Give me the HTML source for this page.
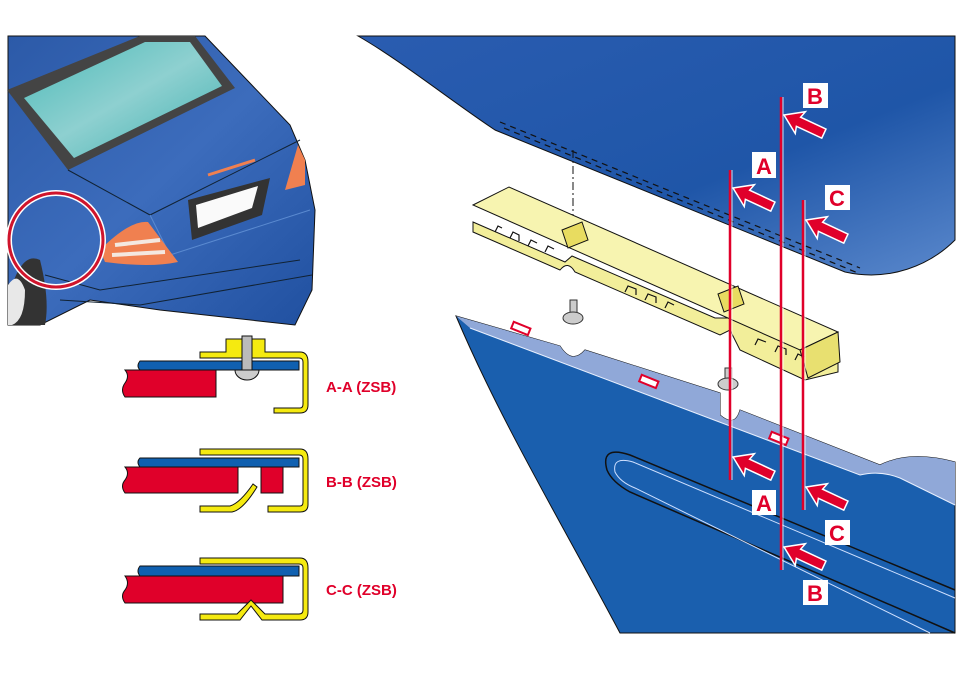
<!DOCTYPE html>
<html><head><meta charset="utf-8"><style>
html,body{margin:0;padding:0;background:#fff;width:960px;height:679px;overflow:hidden}
svg{display:block}
.lbl{font-family:"Liberation Sans",Arial,sans-serif;font-weight:bold;fill:#e0002a}
</style></head><body>
<svg width="960" height="679" viewBox="0 0 960 679" xmlns="http://www.w3.org/2000/svg">
<defs>
<linearGradient id="bg1" x1="0" y1="0" x2="1" y2="1"><stop offset="0" stop-color="#2a5cb0"/><stop offset="0.6" stop-color="#1f56a8"/><stop offset="1" stop-color="#5a88cc"/></linearGradient>
<linearGradient id="car" x1="0" y1="0" x2="1" y2="1"><stop offset="0" stop-color="#2c5aa8"/><stop offset="0.5" stop-color="#3c6cbc"/><stop offset="1" stop-color="#2050a0"/></linearGradient>
<linearGradient id="glass" x1="0" y1="0" x2="1" y2="1"><stop offset="0" stop-color="#4cbab8"/><stop offset="0.5" stop-color="#8ed0d0"/><stop offset="1" stop-color="#40b0b0"/></linearGradient>
<polygon id="arr" points="0,0 18,-12 16,-5 44,-5 44,5 16,5 18,12" fill="#e0002a" stroke="#fff" stroke-width="1.5"/>
</defs>

<!-- CAR -->
<g>
<path d="M8,36 L205,36 L290,125 L305,160 L315,210 L312,290 L295,325 L160,310 L90,300 L40,325 L8,325 Z" fill="url(#car)" stroke="#111" stroke-width="1"/>
<path d="M8,300 Q20,250 40,260 Q50,300 45,325 L8,325Z" fill="#333"/>
<path d="M8,285 Q18,270 25,290 Q25,320 12,325 L8,325Z" fill="#e8e8e8"/>
<path d="M7,90 L140,36 L195,36 L235,88 L68,170 Z" fill="#444"/>
<path d="M24,98 L145,42 L190,42 L222,86 L74,158 Z" fill="url(#glass)"/>
<path d="M68,170 L150,215 L300,140" fill="none" stroke="#123" stroke-width="1"/>
<path d="M150,215 L170,255 L310,210" fill="none" stroke="#5a8ad0" stroke-width="1"/>
<path d="M100,250 Q130,220 148,222 L175,258 L178,262 Q150,268 105,262 Z" fill="#f08050"/>
<path d="M115,245 L160,240 M112,255 L165,252" stroke="#f4e8e0" stroke-width="4"/>
<path d="M285,190 L298,145 L305,160 L305,185 Z" fill="#f08050"/>
<path d="M208,175 L255,160" stroke="#f08050" stroke-width="3"/>
<path d="M188,200 L270,178 L262,215 L192,240 Z" fill="#333"/>
<path d="M196,205 L258,186 L252,208 L198,228 Z" fill="#fafafa"/>
<path d="M45,275 L100,290 L300,260" fill="none" stroke="#123" stroke-width="1"/>
<path d="M60,300 L140,305 L312,275" fill="none" stroke="#123" stroke-width="1"/>
<circle cx="56" cy="240" r="47" fill="none" stroke="#fff" stroke-width="6"/>
<circle cx="56" cy="240" r="47" fill="none" stroke="#d0142c" stroke-width="3"/>
</g>

<!-- RIGHT: upper body -->
<path d="M358,36 L955,36 L955,240 C930,265 890,282 845,272 L495,130 C450,100 400,60 358,36 Z" fill="url(#bg1)" stroke="#111" stroke-width="1"/>
<path d="M500,122 L860,268" stroke="#111" stroke-width="1.2" stroke-dasharray="6,5" fill="none"/>
<path d="M504,128 L858,273" stroke="#111" stroke-width="1.2" stroke-dasharray="6,5" fill="none"/>
<line x1="573" y1="150" x2="573" y2="225" stroke="#111" stroke-width="1" stroke-dasharray="8,3,2,3"/>

<!-- lower body -->
<path d="M456,316 L560,346 Q572,365 585,350 L720,393 L720,415 Q735,428 740,410 L880,465 Q910,450 955,462 L955,633 L620,633 C560,520 500,420 456,316 Z" fill="#1a5fae" stroke="#111" stroke-width="1"/>
<path d="M456,316 L560,346 Q572,365 585,350 L720,393 L720,415 Q735,428 740,410 L880,465 Q910,450 955,462 L955,505 L900,478 Q880,470 860,475 L470,328 Z" fill="#90a8d8"/>
<path d="M470,328 L860,475 Q880,470 900,478 L955,505" fill="none" stroke="#e8f0ff" stroke-width="1"/>
<path d="M955,590 L630,455 Q600,445 607,470 Q612,482 630,492 L955,633" fill="none" stroke="#111" stroke-width="1.5"/>
<path d="M955,598 L633,462 Q612,456 615,472 Q620,482 635,488 L930,633" fill="none" stroke="#cfe0ff" stroke-width="1"/>
<rect x="512" y="325" width="18" height="7" transform="rotate(22 521 328)" fill="#fff" stroke="#e0002a" stroke-width="2"/>
<rect x="640" y="378" width="18" height="7" transform="rotate(22 649 381)" fill="#fff" stroke="#e0002a" stroke-width="2"/>
<rect x="770" y="435" width="18" height="7" transform="rotate(22 779 438)" fill="#fff" stroke="#e0002a" stroke-width="2"/>

<!-- yellow bracket -->
<g stroke="#111" stroke-width="1" fill="#f2ee9a">
<path d="M473,222 L565,262 L572,256 L715,318 L740,318 L838,360 L838,372 L805,380 L740,350 L730,330 L720,335 L575,272 Q568,260 560,270 L473,232 Z"/>
<path d="M473,205 L509,187 L838,332 L800,350 Z" fill="#f7f4b0"/>
<path d="M800,350 L838,332 L840,362 L808,378 Z" fill="#e8e070"/>
<path d="M562,230 L582,222 L588,240 L568,248 Z" fill="#e8dc60"/>
<path d="M718,294 L738,286 L744,304 L724,312 Z" fill="#e8dc60"/>
</g>
<g stroke="#111" stroke-width="1.2" fill="none">
<path d="M495,232 l3,-6 l4,2 M510,238 l3,-6 l6,3 l0,6 M528,246 l3,-6 l6,3 M545,252 l3,-6 l6,3"/>
<path d="M625,292 l3,-6 l8,3 l0,6 M645,300 l3,-6 l8,3 l0,6 M665,308 l3,-6 l6,3"/>
<path d="M755,345 l3,-6 l8,3 M775,352 l3,-6 l8,3 l0,6 M795,360 l3,-6 l6,3"/>
</g>
<!-- screws -->
<g fill="#ccc" stroke="#333" stroke-width="1">
<rect x="570" y="300" width="7" height="16"/>
<ellipse cx="573" cy="318" rx="10" ry="6"/>
<rect x="725" y="368" width="7" height="14"/>
<ellipse cx="728" cy="384" rx="10" ry="6"/>
</g>

<!-- section lines & arrows -->
<g stroke="#e0002a" stroke-width="2.5">
<line x1="730" y1="170" x2="730" y2="480"/>
<line x1="781" y1="97" x2="781" y2="570"/>
<line x1="803" y1="200" x2="803" y2="510"/>
</g>
<g stroke="#fff" stroke-width="0.8" fill="none">
<line x1="732" y1="170" x2="732" y2="480"/><line x1="783" y1="97" x2="783" y2="570"/><line x1="805" y1="200" x2="805" y2="510"/>
</g>
<use href="#arr" transform="translate(733,188) rotate(25)"/>
<use href="#arr" transform="translate(784,115) rotate(25)"/>
<use href="#arr" transform="translate(806,220) rotate(25)"/>
<use href="#arr" transform="translate(733,457) rotate(25)"/>
<use href="#arr" transform="translate(806,487) rotate(25)"/>
<use href="#arr" transform="translate(784,547) rotate(25)"/>
<g fill="#fff">
<rect x="752" y="152" width="24" height="26"/><rect x="803" y="83" width="25" height="25"/><rect x="825" y="185" width="25" height="25"/>
<rect x="752" y="490" width="24" height="25"/><rect x="825" y="520" width="25" height="25"/><rect x="803" y="580" width="25" height="25"/>
</g>
<g class="lbl" font-size="22" text-anchor="middle">
<text x="764" y="174">A</text><text x="815" y="104">B</text><text x="837" y="206">C</text>
<text x="764" y="511">A</text><text x="837" y="541">C</text><text x="815" y="601">B</text>
</g>

<!-- SECTIONS -->
<g stroke="#111" stroke-width="1">
<!-- A-A -->
<path d="M125,370 L216,370 L216,397 L125,397 Q120,390 125,383 Q130,376 125,370Z" fill="#e0002a"/>
<path d="M140,361 L299,361 L299,370 L140,370 Q136,366 140,361Z" fill="#1060b0"/>
<path d="M200,352 L226,352 L226,339 L265,339 L265,352 L300,352 Q308,352 308,362 L308,405 Q308,413 300,413 L274,413 L274,408 L300,408 Q303,408 303,404 L303,362 Q303,358 299,358 L200,358 Z" fill="#f5ea10"/>
<path d="M235,370 A12,10 0 0 0 259,370 Z" fill="#ccc"/>
<rect x="242" y="336" width="10" height="34" fill="#bbb"/>
<!-- B-B -->
<path d="M125,467 L238,467 L238,493 L125,493 Q120,486 125,480 Q130,473 125,467Z" fill="#e0002a"/>
<rect x="261" y="467" width="22" height="26" fill="#e0002a"/>
<path d="M140,458 L299,458 L299,467 L140,467 Q136,462 140,458Z" fill="#1060b0"/>
<path d="M200,449 L300,449 Q308,449 308,459 L308,505 Q308,512 300,512 L268,512 L268,506 L300,506 Q303,506 303,502 L303,459 Q303,455 299,455 L200,455 Z" fill="#f5ea10"/>
<path d="M200,506 L230,506 Q240,503 253,484 L257,487 Q243,510 232,512 L200,512 Z" fill="#f5ea10"/>
<!-- C-C -->
<path d="M125,576 L283,576 L283,603 L125,603 Q120,596 125,590 Q130,583 125,576Z" fill="#e0002a"/>
<path d="M140,566 L299,566 L299,576 L140,576 Q136,571 140,566Z" fill="#1060b0"/>
<path d="M200,558 L300,558 Q308,558 308,568 L308,612 Q308,620 300,620 L262,620 L251,606 L240,620 L200,620 L200,614 L237,614 L251,600 L265,614 L299,614 Q303,614 303,610 L303,568 Q303,564 299,564 L200,564 Z" fill="#f5ea10"/>
</g>
<g class="lbl" font-size="15">
<text x="326" y="392">A-A (ZSB)</text>
<text x="326" y="487">B-B (ZSB)</text>
<text x="326" y="595">C-C (ZSB)</text>
</g>
</svg>
</body></html>
